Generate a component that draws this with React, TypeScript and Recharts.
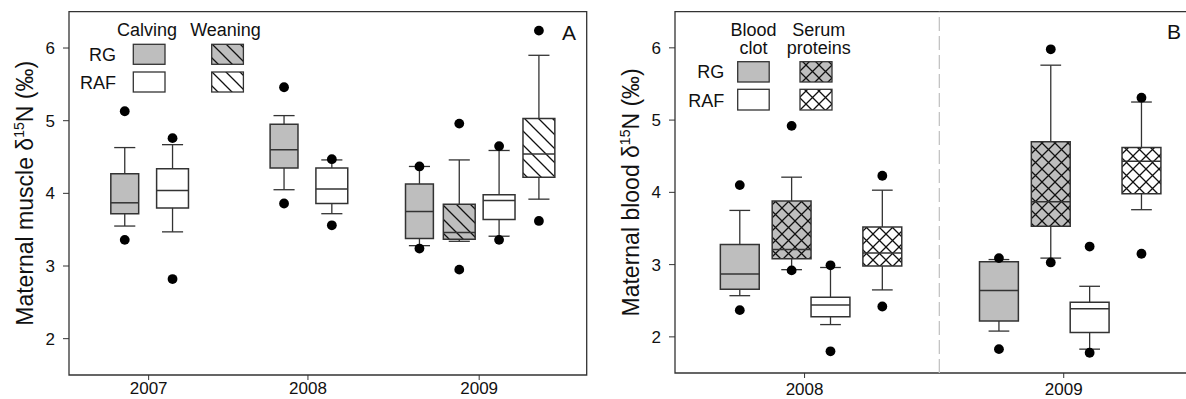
import React from "react";
import {
  ComposedChart,
  XAxis,
  YAxis,
  Scatter,
  ReferenceArea,
  ReferenceLine,
} from "recharts";

const FONT = '"Liberation Sans", Arial, Helvetica, sans-serif';
const INK = "#333";
const GRAY = "#bebebe";

// ---- panel A: maternal muscle, calving vs weaning ----
const yearsA = ["2007", "2008", "2009"];
const yearOfBoxA = ["2007", "2007", "2008", "2008", "2009", "2009", "2009", "2009"];
const siteA = ["RG", "RAF", "RG", "RAF", "RG", "RG", "RAF", "RAF"];
const seasonA = ["Calving", "Calving", "Calving", "Calving", "Calving", "Weaning", "Calving", "Weaning"];
const lowA = [3.55, 3.47, 4.05, 3.72, 3.28, 3.34, 3.41, 3.92];
const q1A = [3.72, 3.8, 4.35, 3.86, 3.38, 3.37, 3.64, 4.22];
const medA = [3.87, 4.04, 4.6, 4.06, 3.75, 3.46, 3.9, 4.54];
const q3A = [4.27, 4.34, 4.95, 4.35, 4.13, 3.85, 3.98, 5.03];
const highA = [4.63, 4.67, 5.07, 4.46, 4.37, 4.46, 4.59, 5.9];
const outA = [
  [5.13, 3.36],
  [4.76, 2.82],
  [5.46, 3.86],
  [4.47, 3.56],
  [4.37, 3.24],
  [4.96, 2.95],
  [4.65, 3.36],
  [6.24, 3.62],
];

// ---- panel B: maternal blood, clot vs serum proteins ----
const yearsB = ["2008", "2009"];
const siteB = ["RG", "RG", "RAF", "RAF", "RG", "RG", "RAF", "RAF"];
const tissueB = ["Clot", "Serum", "Clot", "Serum", "Clot", "Serum", "Clot", "Serum"];
const lowB = [2.57, 2.93, 2.17, 2.65, 2.08, 3.09, 1.83, 3.76];
const q1B = [2.66, 3.08, 2.28, 2.98, 2.22, 3.53, 2.06, 3.98];
const medB = [2.87, 3.21, 2.44, 3.16, 2.64, 3.87, 2.39, 4.43];
const q3B = [3.28, 3.88, 2.55, 3.52, 3.04, 4.7, 2.48, 4.62];
const highB = [3.75, 4.21, 2.96, 4.03, 3.07, 5.76, 2.7, 5.25];
const outB = [
  [4.1, 2.37],
  [4.92, 2.92],
  [2.99, 1.8],
  [4.23, 2.42],
  [3.09, 1.83],
  [5.98, 3.03],
  [3.25, 1.78],
  [5.31, 3.15],
];

// layout (axis units)
const slotA = [1.4, 2.6, 5.4, 6.6, 8.8, 9.8, 10.8, 11.8];
const boxWA = [0.7, 0.8, 0.7, 0.8, 0.7, 0.8, 0.8, 0.8];
const tickA = [2, 6, 10.3];
const slotB = [0.75, 0.95, 1.1, 1.3, 1.75, 1.95, 2.1, 2.3];
const tickB = [1, 2];

const fillFor = (site: string, kind: string) => {
  const hatched = kind === "Weaning" ? "hatch" : kind === "Serum" ? "cross" : "";
  if (!hatched) return site === "RG" ? GRAY : "#fff";
  return `url(#${hatched}${site === "RG" ? "Gray" : "White"})`;
};

type Stats = { low: number[]; q1: number[]; med: number[]; q3: number[]; high: number[] };

function boxes(s: Stats, slot: number[], w: number[], cap: number, fills: string[], k: string) {
  return s.med.flatMap((m, i) => {
    const x = slot[i];
    const hw = w[i] / 2;
    const hc = cap / 2;
    const line = { stroke: INK, strokeWidth: 1.3, ifOverflow: "visible" as const };
    return [
      <ReferenceLine key={`${k}a${i}`} segment={[{ x, y: s.low[i] }, { x, y: s.q1[i] }]} {...line} />,
      <ReferenceLine key={`${k}b${i}`} segment={[{ x, y: s.q3[i] }, { x, y: s.high[i] }]} {...line} />,
      <ReferenceLine key={`${k}c${i}`} segment={[{ x: x - hc, y: s.low[i] }, { x: x + hc, y: s.low[i] }]} {...line} />,
      <ReferenceLine key={`${k}d${i}`} segment={[{ x: x - hc, y: s.high[i] }, { x: x + hc, y: s.high[i] }]} {...line} />,
      <ReferenceArea
        key={`${k}e${i}`}
        x1={x - hw}
        x2={x + hw}
        y1={s.q1[i]}
        y2={s.q3[i]}
        fill={fills[i]}
        fillOpacity={1}
        stroke={INK}
        strokeWidth={1.5}
        ifOverflow="visible"
      />,
      <ReferenceLine
        key={`${k}f${i}`}
        segment={[{ x: x - hw, y: m }, { x: x + hw, y: m }]}
        stroke={INK}
        strokeWidth={1.5}
        ifOverflow="visible"
      />,
    ];
  });
}

function AxisTitle({ viewBox, text }: any) {
  const cx = viewBox.x + 14.5;
  const cy = viewBox.y + viewBox.height / 2;
  return (
    <text
      x={cx}
      y={cy}
      transform={`rotate(-90 ${cx} ${cy})`}
      textAnchor="middle"
      fontSize={23}
      fontFamily={FONT}
      fill="#111"
    >
      {text}
      <tspan dy={-9} fontSize={14}>15</tspan>
      <tspan dy={9}>N (‰)</tspan>
    </text>
  );
}

const dot = (p: any) => <circle cx={p.cx} cy={p.cy} r={4.9} fill="#000" />;
const tickStyle = { fontSize: 17, fill: "#111", fontFamily: FONT };

function PanelA() {
  const stats = { low: lowA, q1: q1A, med: medA, q3: q3A, high: highA };
  const fills = siteA.map((s, i) => fillFor(s, seasonA[i]));
  const pts = outA.flatMap((o, i) => o.map((y) => ({ x: slotA[i], y, box: `${siteA[i]} ${seasonA[i]} ${yearOfBoxA[i]}` })));
  return (
    <ComposedChart width={600} height={399} margin={{ top: 11.7, right: 13.3, bottom: 0, left: 19 }}>
      <XAxis
        type="number"
        dataKey="x"
        domain={[0, 13]}
        allowDataOverflow
        ticks={tickA}
        interval={0}
        tickFormatter={(v) => yearsA[tickA.indexOf(v)]}
        axisLine={false}
        tickLine={{ stroke: INK }}
        tickSize={5}
        tickMargin={2}
        height={24}
        tick={tickStyle}
      />
      <YAxis
        type="number"
        dataKey="y"
        domain={[1.5, 6.5]}
        allowDataOverflow
        ticks={[2, 3, 4, 5, 6]}
        interval={0}
        axisLine={false}
        tickLine={{ stroke: INK }}
        tickSize={6}
        tickMargin={8}
        width={50}
        tick={tickStyle}
        label={<AxisTitle text="Maternal muscle δ" />}
      />
      <ReferenceArea x1={0} x2={13} y1={1.5} y2={6.5} fill="none" stroke={INK} strokeWidth={1.3} ifOverflow="visible" />
      {boxes(stats, slotA, boxWA, 0.53, fills, "A")}
      <Scatter data={pts} shape={dot} isAnimationActive={false} />
    </ComposedChart>
  );
}

function PanelB() {
  const stats = { low: lowB, q1: q1B, med: medB, q3: q3B, high: highB };
  const fills = siteB.map((s, i) => fillFor(s, tissueB[i]));
  const pts = outB.flatMap((o, i) => o.map((y) => ({ x: slotB[i], y })));
  return (
    <ComposedChart width={600} height={399} margin={{ top: 11.7, right: 6.7, bottom: 2, left: 25 }}>
      <XAxis
        type="number"
        dataKey="x"
        domain={[0.5, 2.5]}
        allowDataOverflow
        ticks={tickB}
        interval={0}
        tickFormatter={(v) => yearsB[tickB.indexOf(v)]}
        axisLine={false}
        tickLine={{ stroke: INK }}
        tickSize={5}
        tickMargin={5}
        height={24}
        tick={tickStyle}
      />
      <YAxis
        type="number"
        dataKey="y"
        domain={[1.5, 6.5]}
        allowDataOverflow
        ticks={[2, 3, 4, 5, 6]}
        interval={0}
        axisLine={false}
        tickLine={{ stroke: INK }}
        tickSize={6}
        tickMargin={8}
        width={50}
        tick={tickStyle}
        label={<AxisTitle text="Maternal blood δ" />}
      />
      <ReferenceArea x1={0.5} x2={2.5} y1={1.5} y2={6.5} fill="none" stroke={INK} strokeWidth={1.3} ifOverflow="visible" />
      <ReferenceLine x={1.52} stroke="#c4c4c4" strokeWidth={1.3} strokeDasharray="14 5" />
      {boxes(stats, slotB, slotB.map(() => 0.15), 0.08, fills, "B")}
      <Scatter data={pts} shape={dot} isAnimationActive={false} />
    </ComposedChart>
  );
}

function Overlay() {
  const t = { fontFamily: FONT, fontSize: 18, fill: "#111" };
  const sw = { stroke: INK, strokeWidth: 1.3 };
  return (
    <svg width={1186} height={399} style={{ position: "absolute", left: 0, top: 0, pointerEvents: "none" }}>
      <defs>
        {[
          ["hatchGray", GRAY],
          ["hatchWhite", "#fff"],
        ].map(([id, bg]) => (
          <pattern key={id} id={id} patternUnits="userSpaceOnUse" width={14} height={14}>
            <rect width={14} height={14} fill={bg} />
            <path d="M0,0 L14,14 M13,-1 L15,1 M-1,13 L1,15" stroke="#111" strokeWidth={1.3} />
          </pattern>
        ))}
        {[
          ["crossGray", GRAY],
          ["crossWhite", "#fff"],
        ].map(([id, bg]) => (
          <pattern key={id} id={id} patternUnits="userSpaceOnUse" width={13} height={13}>
            <rect width={13} height={13} fill={bg} />
            <path d="M0,0 L13,13 M13,0 L0,13" stroke="#111" strokeWidth={1.3} />
          </pattern>
        ))}
      </defs>

      {/* legend A */}
      <text x={147} y={36} textAnchor="middle" {...t}>Calving</text>
      <text x={225.5} y={36} textAnchor="middle" {...t}>Weaning</text>
      <text x={116} y={61} textAnchor="end" {...t}>RG</text>
      <text x={116} y={88.7} textAnchor="end" {...t}>RAF</text>
      <rect x={133.3} y={44.3} width={31.7} height={20} fill={fillFor("RG", "Calving")} {...sw} />
      <rect x={133.3} y={72} width={31.7} height={20} fill={fillFor("RAF", "Calving")} {...sw} />
      <rect x={211.7} y={44.3} width={31.7} height={20} fill={fillFor("RG", "Weaning")} {...sw} />
      <rect x={211.7} y={72} width={31.7} height={20} fill={fillFor("RAF", "Weaning")} {...sw} />
      <text x={569} y={40} textAnchor="middle" {...t} fontSize={21}>A</text>

      {/* legend B */}
      <text x={753.5} y={36} textAnchor="middle" {...t}>Blood</text>
      <text x={753.5} y={54.3} textAnchor="middle" {...t}>clot</text>
      <text x={818.7} y={36} textAnchor="middle" {...t}>Serum</text>
      <text x={818.7} y={54.3} textAnchor="middle" {...t}>proteins</text>
      <text x={724.3} y={78.3} textAnchor="end" {...t}>RG</text>
      <text x={724.3} y={106.7} textAnchor="end" {...t}>RAF</text>
      <rect x={737.7} y={61.7} width={31.5} height={20.3} fill={fillFor("RG", "Clot")} {...sw} />
      <rect x={737.7} y={89.3} width={31.5} height={20.7} fill={fillFor("RAF", "Clot")} {...sw} />
      <rect x={800} y={61.7} width={32} height={20.3} fill={fillFor("RG", "Serum")} {...sw} />
      <rect x={800} y={89.3} width={32} height={20.7} fill={fillFor("RAF", "Serum")} {...sw} />
      <text x={1174} y={39.3} textAnchor="middle" {...t} fontSize={21}>B</text>
    </svg>
  );
}

export default function App() {
  return (
    <div
      style={{
        position: "absolute",
        left: 0,
        top: 0,
        width: 1186,
        height: 399,
        overflow: "hidden",
        background: "#fff",
      }}
    >
      <div style={{ position: "absolute", left: 0, top: 0 }}>
        <PanelA />
      </div>
      <div style={{ position: "absolute", left: 600, top: 0 }}>
        <PanelB />
      </div>
      <Overlay />
    </div>
  );
}
